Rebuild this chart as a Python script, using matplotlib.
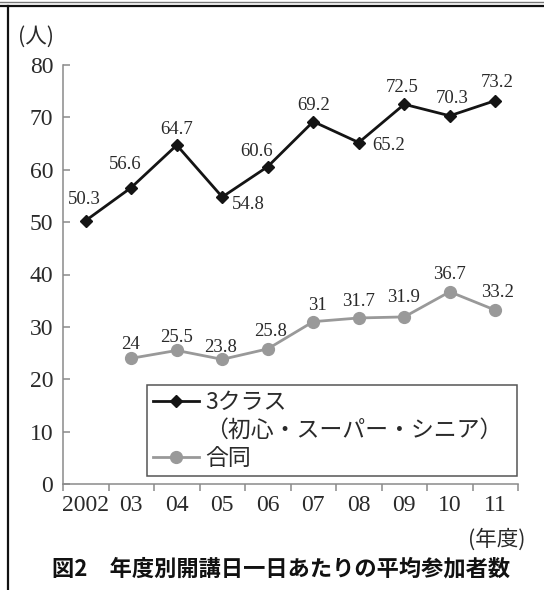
import matplotlib
matplotlib.use("Agg")
import matplotlib.pyplot as plt
from matplotlib.lines import Line2D
import numpy as np

# --- data -------------------------------------------------------------
year_labels = ["2002", "03", "04", "05", "06", "07", "08", "09", "10", "11"]
three_class = [50.3, 56.6, 64.7, 54.8, 60.6, 69.2, 65.2, 72.5, 70.3, 73.2]
joint = [np.nan, 24, 25.5, 23.8, 25.8, 31, 31.7, 31.9, 36.7, 33.2]
y_ticks = [0, 10, 20, 30, 40, 50, 60, 70, 80]

series_names = ["3クラス", "（初心・スーパー・シニア）", "合同"]
title = "図2　年度別開講日一日あたりの平均参加者数"

# value-label offsets (pixels) so labels clear the lines
three_offsets = [(-1, 21), (-6, 23), (0, 16), (26, -8), (-11, 15),
                 (0, 16), (30, -3), (-2, 17), (2, 17), (2, 18)]
joint_offsets = [(0, 0), (-1, 14), (0, 13), (-2, 12), (3, 17),
                 (4, 16), (0, 16), (-1, 19), (0, 17), (2, 18)]

JP = ["Noto Sans CJK JP", "DejaVu Sans"]
NUM = "Liberation Serif"
BLACK = "#141414"
GREY = "#999999"
AXIS = "#8a8a8a"
TEXT = "#2a2a2a"

W, H = 544, 590
fig = plt.figure(figsize=(W / 100, H / 100), dpi=100)
ax = fig.add_axes([63 / W, 1 - 484 / H, (518 - 63) / W, (484 - 65) / H])

x = np.arange(len(year_labels))

ax.plot(x, joint, color=GREY, lw=2.0, marker="o", ms=8.5,
        markeredgecolor=GREY, zorder=3)
ax.plot(x, three_class, color=BLACK, lw=2.0, marker="D", ms=6.5,
        markeredgecolor=BLACK, zorder=4)

for xi, v, (dx, dy) in zip(x, three_class, three_offsets):
    ax.annotate(f"{v:g}", (xi, v), xytext=(dx, dy), textcoords="offset pixels",
                ha="center", va="center", fontsize=13.5, family=NUM, color=TEXT)
for xi, v, (dx, dy) in zip(x, joint, joint_offsets):
    if np.isnan(v):
        continue
    ax.annotate(f"{v:g}", (xi, v), xytext=(dx, dy), textcoords="offset pixels",
                ha="center", va="center", fontsize=13.5, family=NUM, color=TEXT)

ax.set_xlim(-0.5, len(year_labels) - 0.5)
ax.set_ylim(0, 80)

# category boundaries carry the tick marks, centres carry the labels
ax.set_xticks(np.arange(len(year_labels) + 1) - 0.5)
ax.set_xticklabels([])
ax.set_xticks(x, minor=True)
ax.set_xticklabels(year_labels, minor=True, family=NUM, fontsize=17, color=TEXT)
ax.tick_params(axis="x", which="major", direction="out", length=5, width=1.1, color=AXIS)
ax.tick_params(axis="x", which="minor", length=0, pad=8)

ax.set_yticks(y_ticks)
ax.set_yticklabels([str(t) for t in y_ticks], family=NUM, fontsize=17, color=TEXT)
ax.tick_params(axis="y", direction="in", length=5, width=1.1, color=AXIS, pad=7)

for side in ("top", "right"):
    ax.spines[side].set_visible(False)
for side in ("left", "bottom"):
    ax.spines[side].set_color(AXIS)
    ax.spines[side].set_linewidth(1.1)

handles = [
    Line2D([], [], color=BLACK, lw=2.0, marker="D", ms=6.5),
    Line2D([], [], alpha=0),
    Line2D([], [], color=GREY, lw=2.0, marker="o", ms=8.5),
]
leg = ax.legend(handles, series_names, loc="lower left",
                bbox_to_anchor=((147 - 63) / 455, (484 - 476) / 419, (517 - 147) / 455, 0.2),
                mode="expand", prop={"family": JP, "size": 16.5}, numpoints=1,
                handlelength=2.0, handletextpad=0.3, labelspacing=0.22,
                borderpad=0.25, borderaxespad=0, fancybox=False, framealpha=1)
leg.get_frame().set_edgecolor("#555555")
leg.get_frame().set_linewidth(1.1)
for t in leg.get_texts():
    t.set_color(TEXT)

fig.text(18 / W, 1 - 37 / H, "(人)", family=JP, fontsize=15.5, color=TEXT,
         ha="left", va="center")
fig.text(525 / W, 1 - 540 / H, "(年度)", family=JP, fontsize=15.5, color=TEXT,
         ha="right", va="center")
fig.text(281 / W, 1 - 569 / H, title, family=JP, fontsize=16, weight="bold",
         color="#111111", ha="center", va="center")

# page frame
fig.add_artist(Line2D([0, 1], [1 - 1.5 / H] * 2, color="#777777", lw=1.0,
                      transform=fig.transFigure))
fig.add_artist(Line2D([0, 1], [1 - 6 / H] * 2, color="#111111", lw=1.6,
                      transform=fig.transFigure))
fig.add_artist(Line2D([8 / W] * 2, [0, 1 - 6 / H], color="#111111", lw=1.6,
                      transform=fig.transFigure))

fig.savefig("out.png", dpi=100)
